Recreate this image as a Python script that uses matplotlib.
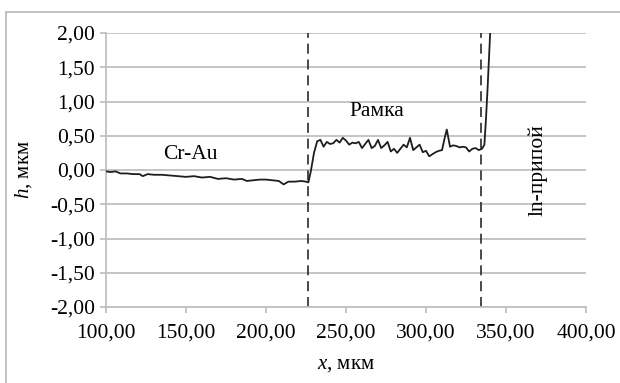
import numpy as np
import matplotlib.pyplot as plt
from matplotlib.patches import Rectangle

plt.rcParams['font.family'] = ['Liberation Serif', 'DejaVu Serif']
plt.rcParams['mathtext.fontset'] = 'custom'
plt.rcParams['mathtext.it'] = 'Liberation Serif:italic'
plt.rcParams['mathtext.rm'] = 'Liberation Serif'

# profile data
x_um = [100, 103, 106, 109, 113, 117, 121, 123, 126, 130, 135, 140, 145, 150,
        155, 160, 165, 170, 175, 180, 185, 188, 192, 196, 200, 204, 208, 211,
        214, 218, 222, 225, 226.5, 228, 230, 232, 234, 236, 238, 240, 242, 244,
        246, 248, 250, 252, 254, 256, 258, 260, 262, 264, 266, 268, 270, 272,
        274, 276, 278, 280, 282, 284, 286, 288, 290, 292, 294, 296, 298, 300,
        302, 304, 306, 308, 310, 312, 313, 315, 317, 319, 321, 323, 325, 327,
        329, 331, 333, 335, 336.5, 337.5, 338.5, 339.5, 340.5]
h_um = [-0.02, -0.03, -0.02, -0.05, -0.05, -0.06, -0.06, -0.09, -0.06, -0.07,
        -0.07, -0.08, -0.09, -0.10, -0.09, -0.11, -0.10, -0.13, -0.12, -0.14,
        -0.13, -0.16, -0.15, -0.14, -0.14, -0.15, -0.16, -0.21, -0.17, -0.17,
        -0.16, -0.17, -0.18, -0.02, 0.25, 0.42, 0.44, 0.34, 0.41, 0.38, 0.39,
        0.44, 0.40, 0.47, 0.43, 0.37, 0.40, 0.39, 0.41, 0.32, 0.38, 0.44, 0.32,
        0.35, 0.44, 0.32, 0.36, 0.41, 0.27, 0.31, 0.25, 0.31, 0.37, 0.33, 0.47,
        0.29, 0.33, 0.37, 0.26, 0.28, 0.20, 0.23, 0.26, 0.28, 0.29, 0.50, 0.59,
        0.34, 0.36, 0.35, 0.33, 0.34, 0.33, 0.27, 0.31, 0.32, 0.29, 0.31, 0.37,
        0.75, 1.20, 1.70, 2.20]

boundaries = [226.3, 334.5]
xticks = [100, 150, 200, 250, 300, 350, 400]
yticks = [-2, -1.5, -1, -0.5, 0, 0.5, 1, 1.5, 2]

fig = plt.figure(figsize=(6.2, 3.83), dpi=100)
ax = fig.add_axes([106/620, 1 - 307/383, 480/620, 274/383])

# outer frame
fig.patches.append(Rectangle((6/620, -0.05), 1.0, 1 - 12/383 + 0.05,
                             transform=fig.transFigure, fill=False,
                             edgecolor='#bdbdbd', lw=1.3, zorder=0))

ax.plot(x_um, h_um, color='#1e1e1e', lw=1.3, zorder=3)
for b in boundaries:
    ax.axvline(b, color='#2a2a2a', lw=1.2, ls=(0, (6, 3.5)), zorder=2)

ax.set_xlim(100, 400)
ax.set_ylim(-2, 2)
ax.set_xticks(xticks)
ax.set_yticks(yticks)
fmt = lambda v: ('%.2f' % v).replace('.', ',')
ax.set_xticklabels([fmt(v) for v in xticks])
ax.set_yticklabels([fmt(v) for v in yticks])
ax.grid(axis='y', color='#c0c0c0', lw=1.3)
ax.set_axisbelow(True)
for s in ['top', 'right']:
    ax.spines[s].set_visible(False)
for s in ['left', 'bottom']:
    ax.spines[s].set_color('#c0c0c0')
    ax.spines[s].set_linewidth(1.3)
ax.tick_params(axis='both', colors='#c0c0c0', width=1.3, length=4,
               labelcolor='black', labelsize=15.5)
ax.tick_params(axis='x', pad=8)
ax.tick_params(axis='y', pad=4)

ax.set_xlabel(r'$x$, мкм', fontsize=15)
ax.set_ylabel(r'$h$, мкм', fontsize=15)
ax.xaxis.set_label_coords(0.5, -0.175)
ax.yaxis.set_label_coords(-0.15, 0.5)

ax.text(153, 0.22, 'Cr-Au', fontsize=15.5, ha='center', va='center')
ax.text(269, 0.85, 'Рамка', fontsize=15.5, ha='center', va='center')
ax.text(370, 0.0, 'ln-припой', fontsize=15.5, ha='center', va='center',
        rotation=90)

fig.savefig('out.png', dpi=100)
